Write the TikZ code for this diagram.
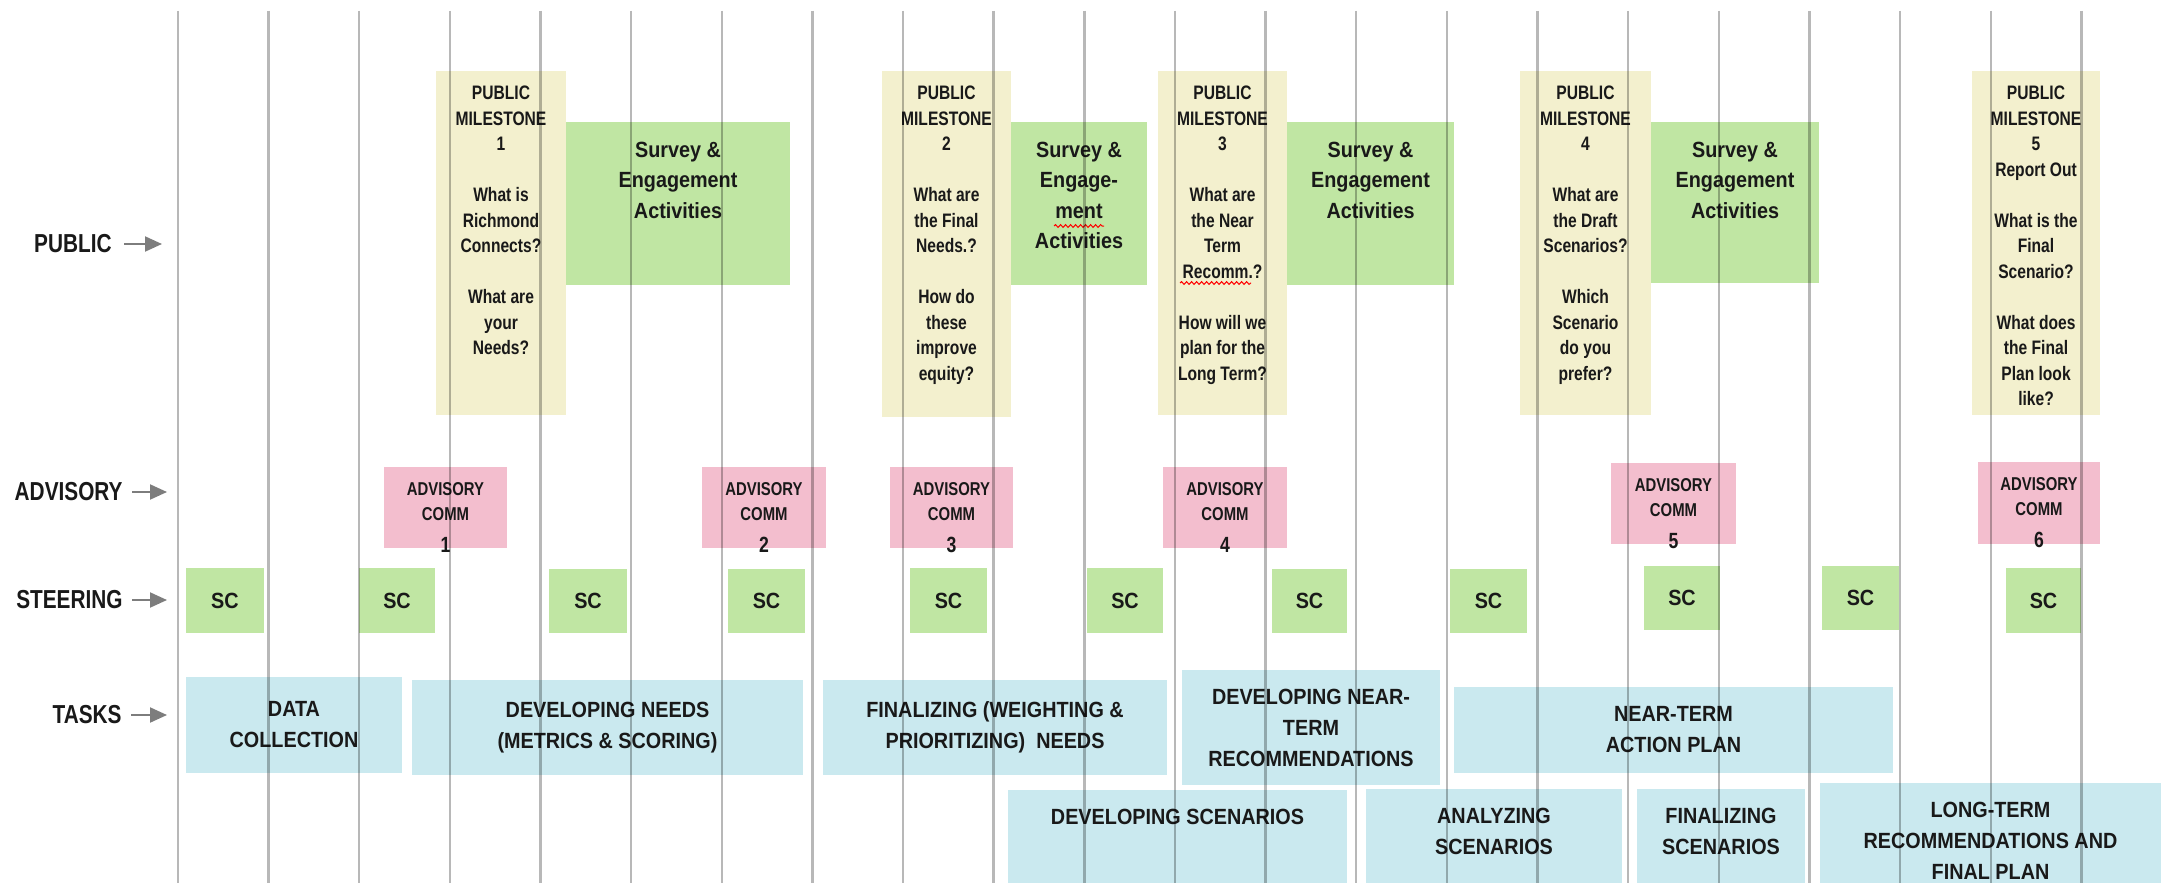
\documentclass[tikz,border=0pt]{standalone}
\usepackage{fontspec}
\setmainfont{Liberation Sans}
\newfontfamily\fna{Liberation Sans}[FakeStretch=0.80]
\newfontfamily\fnb{Liberation Sans}[FakeStretch=0.90]
\usetikzlibrary{arrows.meta,decorations.pathmorphing}
\definecolor{msy}{RGB}{243,240,206}
\definecolor{grn}{RGB}{192,230,163}
\definecolor{pnk}{RGB}{243,190,206}
\definecolor{blu}{RGB}{202,233,239}
\definecolor{gline}{RGB}{184,184,184}
\definecolor{garr}{RGB}{125,125,125}
\definecolor{txt}{RGB}{25,25,25}
\newcommand\cbox[7]{\node[#6,minimum width={(#4-#2)*0.5pt},minimum height={(#5-#3)*0.5pt}] (#1) at ({(#2+#4)/2},{(#3+#5)/2}) {#7};}
\newcommand\tbox[8]{\pgfmathsetlengthmacro\mybw{(#4-#2)*0.5pt}\pgfmathsetlengthmacro\mybh{(#5-#3)*0.5pt}\node[#6,inner sep=0pt] (#1) at ({(#2+#4)/2},{(#3+#5)/2}) {\parbox[c][\mybh][t]{\mybw}{\centering\vspace*{#7}#8\par}};}
\tikzset{
 boxbase/.style={draw=none, inner sep=0pt, text=txt},
 msbox/.style={boxbase, fill=msy, font=\fna\bfseries\fontsize{9.75}{12.75}\selectfont},
 svbox/.style={boxbase, fill=grn, font=\fnb\bfseries\fontsize{11}{15.25}\selectfont},
 acbox/.style={boxbase, fill=pnk, font=\fna\bfseries\fontsize{9.3}{12.5}\selectfont},
 scbox/.style={boxbase, fill=grn, font=\fnb\bfseries\fontsize{11}{13}\selectfont},
 tkbox/.style={boxbase, fill=blu, align=center, font=\fnb\bfseries\fontsize{11}{15.5}\selectfont},
 tkbot/.style={boxbase, fill=blu, font=\fnb\bfseries\fontsize{11}{15.5}\selectfont},
 rowlbl/.style={inner sep=0pt, anchor=east, text=txt, font=\fna\bfseries\fontsize{13}{15}\selectfont},
 rowarr/.style={draw=garr, line width=1pt, -{Triangle[length=8.5pt,width=7.5pt]}},
 gridline/.style={draw=gline, line width=1.2pt},
 spell/.style={draw=red, line width=0.5pt, decorate, decoration={snake, amplitude=0.7pt, segment length=2.5pt}}
}
\begin{document}
\begin{tikzpicture}[x=0.5pt,y=-0.5pt]
\useasboundingbox (0,0) rectangle (2161,883);
\fill[white] (0,0) rectangle (2161,883);
% row labels
\node[rowlbl] (lpub) at (112,244) {PUBLIC};
\node[rowlbl] (ladv) at (123,492) {ADVISORY};
\node[rowlbl] (lste) at (123,600) {STEERING};
\node[rowlbl] (ltas) at (122,715) {TASKS};
\coordinate (lpubE) at (162,244);
\coordinate (ladvE) at (167,492);
\coordinate (lsteE) at (167,600);
\coordinate (ltasE) at (167,715);
\draw[rowarr] ([xshift=6pt]lpub.east) -- (lpubE);
\draw[rowarr] ([xshift=4.5pt]ladv.east) -- (ladvE);
\draw[rowarr] ([xshift=4.5pt]lste.east) -- (lsteE);
\draw[rowarr] ([xshift=4.5pt]ltas.east) -- (ltasE);
% public milestones
\tbox{m1}{436}{71}{566}{415}{msbox}{7.5pt}{PUBLIC\\MILESTONE\\1\\[12.75pt]What is\\Richmond\\Connects?\\[12.75pt]What are\\your\\Needs?}
\tbox{m2}{882}{71}{1011}{417}{msbox}{7.5pt}{PUBLIC\\MILESTONE\\2\\[12.75pt]What are\\the Final\\Needs.?\\[12.75pt]How do\\these\\improve\\equity?}
\tbox{m3}{1158}{71}{1287}{415}{msbox}{7.5pt}{PUBLIC\\MILESTONE\\3\\[12.75pt]What are\\the Near\\Term\\Recomm.?\\[12.75pt]How will we\\plan for the\\Long Term?}
\tbox{m4}{1520}{71}{1651}{415}{msbox}{7.5pt}{PUBLIC\\MILESTONE\\4\\[12.75pt]What are\\the Draft\\Scenarios?\\[12.75pt]Which\\Scenario\\do you\\prefer?}
\tbox{m5}{1972}{71}{2100}{415}{msbox}{7.5pt}{PUBLIC\\MILESTONE\\5\\Report Out\\[12.75pt]What is the\\Final\\Scenario?\\[12.75pt]What does\\the Final\\Plan look\\like?}
% survey
\tbox{s1}{566}{122}{790}{285}{svbox}{10pt}{Survey \&\\Engagement\\Activities}
\tbox{s2}{1011}{122}{1147}{285}{svbox}{10pt}{Survey \&\\Engage-\\ment\\Activities}
\tbox{s3}{1287}{122}{1454}{285}{svbox}{10pt}{Survey \&\\Engagement\\Activities}
\tbox{s4}{1651}{122}{1819}{283}{svbox}{10pt}{Survey \&\\Engagement\\Activities}
% advisory
\tbox{a1}{384}{467}{507}{548}{acbox}{8pt}{ADVISORY\\COMM\\[3.5pt]{\fontsize{11}{12.5}\selectfont 1}}
\tbox{a2}{702}{467}{826}{548}{acbox}{8pt}{ADVISORY\\COMM\\[3.5pt]{\fontsize{11}{12.5}\selectfont 2}}
\tbox{a3}{890}{467}{1013}{548}{acbox}{8pt}{ADVISORY\\COMM\\[3.5pt]{\fontsize{11}{12.5}\selectfont 3}}
\tbox{a4}{1163}{467}{1287}{548}{acbox}{8pt}{ADVISORY\\COMM\\[3.5pt]{\fontsize{11}{12.5}\selectfont 4}}
\tbox{a5}{1611}{463}{1736}{544}{acbox}{8pt}{ADVISORY\\COMM\\[3.5pt]{\fontsize{11}{12.5}\selectfont 5}}
\tbox{a6}{1978}{462}{2100}{544}{acbox}{8pt}{ADVISORY\\COMM\\[3.5pt]{\fontsize{11}{12.5}\selectfont 6}}
% steering
\cbox{sc1}{186}{568}{264}{633}{scbox}{SC}
\cbox{sc2}{359}{568}{435}{633}{scbox}{SC}
\cbox{sc3}{549}{569}{627}{633}{scbox}{SC}
\cbox{sc4}{728}{569}{805}{633}{scbox}{SC}
\cbox{sc5}{910}{568}{987}{633}{scbox}{SC}
\cbox{sc6}{1087}{568}{1163}{633}{scbox}{SC}
\cbox{sc7}{1272}{569}{1347}{633}{scbox}{SC}
\cbox{sc8}{1450}{569}{1527}{633}{scbox}{SC}
\cbox{sc9}{1644}{566}{1720}{630}{scbox}{SC}
\cbox{sc10}{1822}{566}{1899}{630}{scbox}{SC}
\cbox{sc11}{2006}{568}{2081}{633}{scbox}{SC}
% tasks
\cbox{t1}{186}{677}{402}{773}{tkbox}{DATA\\COLLECTION}
\cbox{t2}{412}{680}{803}{775}{tkbox}{DEVELOPING NEEDS\\(METRICS \& SCORING)}
\cbox{t3}{823}{680}{1167}{775}{tkbox}{FINALIZING (WEIGHTING \&\\PRIORITIZING)\ \ NEEDS}
\cbox{t4}{1182}{670}{1440}{785}{tkbox}{DEVELOPING NEAR-\\TERM\\RECOMMENDATIONS}
\cbox{t5}{1454}{687}{1893}{773}{tkbox}{NEAR-TERM\\ACTION PLAN}
\tbox{t6}{1008}{790}{1347}{883}{tkbot}{9.5pt}{DEVELOPING SCENARIOS}
\tbox{t7}{1366}{789}{1622}{883}{tkbot}{9.5pt}{ANALYZING\\SCENARIOS}
\tbox{t8}{1637}{789}{1805}{883}{tkbot}{9.5pt}{FINALIZING\\SCENARIOS}
\tbox{t9}{1820}{783}{2161}{883}{tkbot}{9.5pt}{LONG-TERM\\RECOMMENDATIONS AND\\FINAL PLAN}
% spell-check marks
\draw[spell] (1054,226) -- (1104,226);
\draw[spell] (1180,283) -- (1251,283);
% timeline grid
\begin{scope}[blend mode=multiply]
\foreach \k in {0,...,21} \draw[gridline] ({177.8+90.65*\k},11) -- ({177.8+90.65*\k},883);
\end{scope}
\end{tikzpicture}
\end{document}
